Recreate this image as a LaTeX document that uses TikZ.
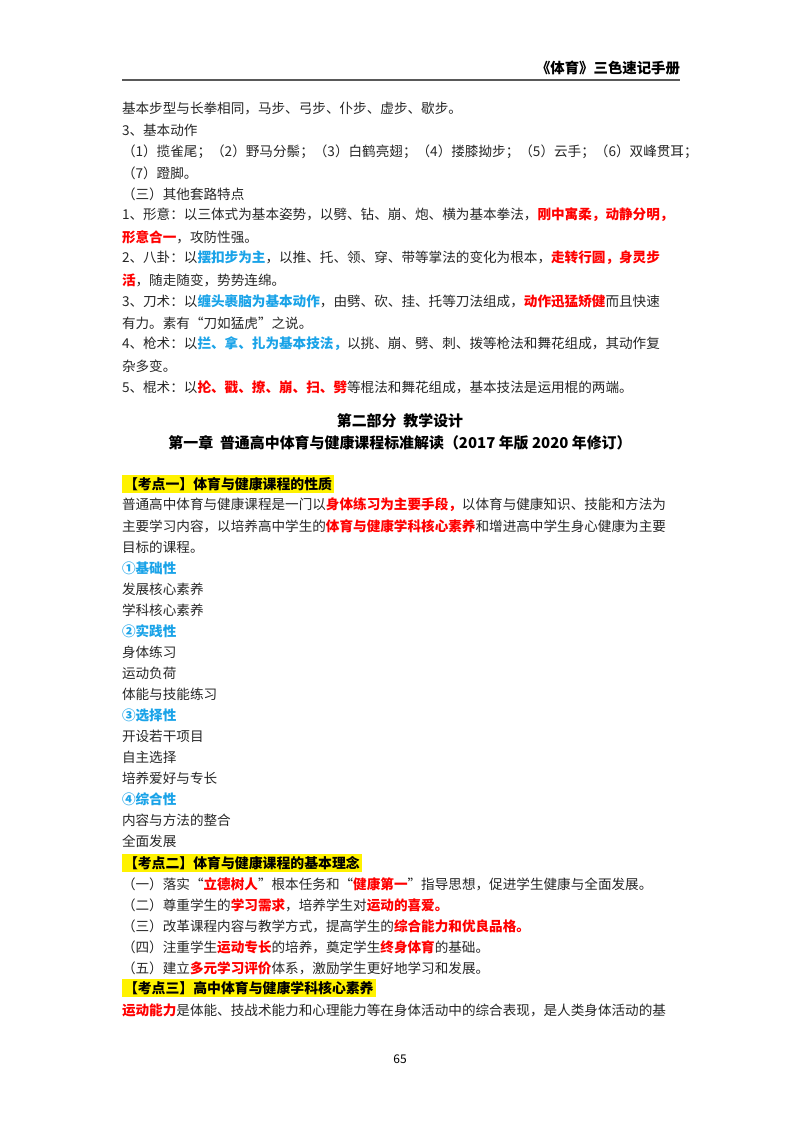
\documentclass[tikz,border=0pt]{standalone}
\usepackage{fontspec}
\setmainfont{Noto Sans CJK SC}
\XeTeXlinebreaklocale "zh"
\XeTeXlinebreakskip=0pt plus 3pt
\definecolor{kred}{HTML}{FF0000}
\definecolor{kblue}{HTML}{1AA3E8}
\definecolor{ktext}{HTML}{262626}
\newcommand{\Rd}[1]{{\color{kred}\bfseries #1}}
\newcommand{\Bl}[1]{{\color{kblue}\bfseries #1}}
\newcommand{\Fl}[1]{\hbox to 418.5pt{#1}}
\begin{document}
\begin{tikzpicture}[x=0.75pt,y=-0.75pt,
  every node/.style={inner sep=0pt,outer sep=0pt,font=\fontsize{10.2}{12}\selectfont,text=ktext},
  ln/.style={anchor=west},
  full/.style={anchor=west},
  hl/.style={anchor=west,fill=yellow,inner xsep=1.5pt,inner ysep=2pt,font=\fontsize{10.4}{12}\selectfont\bfseries,text=black},
  ttl/.style={font=\fontsize{11.2}{13}\selectfont\bfseries,text=black}]
\useasboundingbox (0,0) rectangle (800,1132);
\node[anchor=east,font=\fontsize{10.8}{12}\selectfont\bfseries,text=black] (hdr) at (680,68) {《体育》三色速记手册};
\coordinate (hl1) at (122,80); \coordinate (hl2) at (680,80);
\draw[gray!70!black,line width=0.8pt] (hl1) -- (hl2);
\node[ln] (l1) at (122,108) {基本步型与长拳相同，马步、弓步、仆步、虚步、歇步。};
\node[ln] (l2) at (122,130) {3、基本动作};
\node[full] (l3) at (122,152) {\Fl{（1）揽雀尾；（2）野马分鬃；（3）白鹤亮翅；（4）搂膝拗步；（5）云手；（6）双峰贯耳；}};
\node[ln] (l4) at (122,173) {（7）蹬脚。};
\node[ln] (l5) at (122,194) {（三）其他套路特点};
\node[full] (l6) at (122,215) {\Fl{1、形意：以三体式为基本姿势，以劈、钻、崩、炮、横为基本拳法，\Rd{刚中寓柔，动静分明，}}};
\node[ln] (l7) at (122,237) {\Rd{形意合一}，攻防性强。};
\node[full] (l8) at (122,258) {\Fl{2、八卦：以\Bl{摆扣步为主}，以推、托、领、穿、带等掌法的变化为根本，\Rd{走转行圆，身灵步}}};
\node[ln] (l9) at (122,280) {\Rd{活}，随走随变，势势连绵。};
\node[full] (l10) at (122,301) {\Fl{3、刀术：以\Bl{缠头裹脑为基本动作}，由劈、砍、挂、托等刀法组成，\Rd{动作迅猛矫健}而且快速}};
\node[ln] (l11) at (122,323) {有力。素有“刀如猛虎”之说。};
\node[full] (l12) at (122,344) {\Fl{4、枪术：以\Bl{拦、拿、扎为基本技法，}以挑、崩、劈、刺、拨等枪法和舞花组成，其动作复}};
\node[ln] (l13) at (122,366) {杂多变。};
\node[ln] (l14) at (122,387) {5、棍术：以\Rd{抡、戳、撩、崩、扫、劈}等棍法和舞花组成，基本技法是运用棍的两端。};
\node[ttl] (t1) at (400,421) {第二部分\ \ 教学设计};
\node[ttl] (t2) at (400,443) {第一章\ \ 普通高中体育与健康课程标准解读（2017 年版 2020 年修订）};
\node[hl] (k1) at (122,484) {【考点一】体育与健康课程的性质};
\node[full] (p1) at (122,505) {\Fl{普通高中体育与健康课程是一门以\Rd{身体练习为主要手段，}以体育与健康知识、技能和方法为}};
\node[full] (p2) at (122,526) {\Fl{主要学习内容，以培养高中学生的\Rd{体育与健康学科核心素养}和增进高中学生身心健康为主要}};
\node[ln] (p3) at (122,547) {目标的课程。};
\node[ln] (a1) at (122,568) {\Bl{①基础性}};
\node[ln] (a2) at (122,589) {发展核心素养};
\node[ln] (a3) at (122,610) {学科核心素养};
\node[ln] (b1) at (122,631) {\Bl{②实践性}};
\node[ln] (b2) at (122,652) {身体练习};
\node[ln] (b3) at (122,673) {运动负荷};
\node[ln] (b4) at (122,694) {体能与技能练习};
\node[ln] (c1) at (122,715) {\Bl{③选择性}};
\node[ln] (c2) at (122,736) {开设若干项目};
\node[ln] (c3) at (122,757) {自主选择};
\node[ln] (c4) at (122,778) {培养爱好与专长};
\node[ln] (d1) at (122,799) {\Bl{④综合性}};
\node[ln] (d2) at (122,820) {内容与方法的整合};
\node[ln] (d4) at (122,841) {全面发展};
\node[hl] (k2) at (122,863) {【考点二】体育与健康课程的基本理念};
\node[ln] (e1) at (122,884) {（一）落实“\Rd{立德树人}”根本任务和“\Rd{健康第一}”指导思想，促进学生健康与全面发展。};
\node[ln] (e2) at (122,905) {（二）尊重学生的\Rd{学习需求}，培养学生对\Rd{运动的喜爱。}};
\node[ln] (e3) at (122,926) {（三）改革课程内容与教学方式，提高学生的\Rd{综合能力和优良品格。}};
\node[ln] (e4) at (122,947) {（四）注重学生\Rd{运动专长}的培养，奠定学生\Rd{终身体育}的基础。};
\node[ln] (e5) at (122,968) {（五）建立\Rd{多元学习评价}体系，激励学生更好地学习和发展。};
\node[hl] (k3) at (122,988) {【考点三】高中体育与健康学科核心素养};
\node[full] (f1) at (122,1010) {\Fl{\Rd{运动能力}是体能、技战术能力和心理能力等在身体活动中的综合表现，是人类身体活动的基}};
\node[font=\fontsize{9}{10}\selectfont,text=black] (pg) at (400,1059) {65};
\end{tikzpicture}
\end{document}
